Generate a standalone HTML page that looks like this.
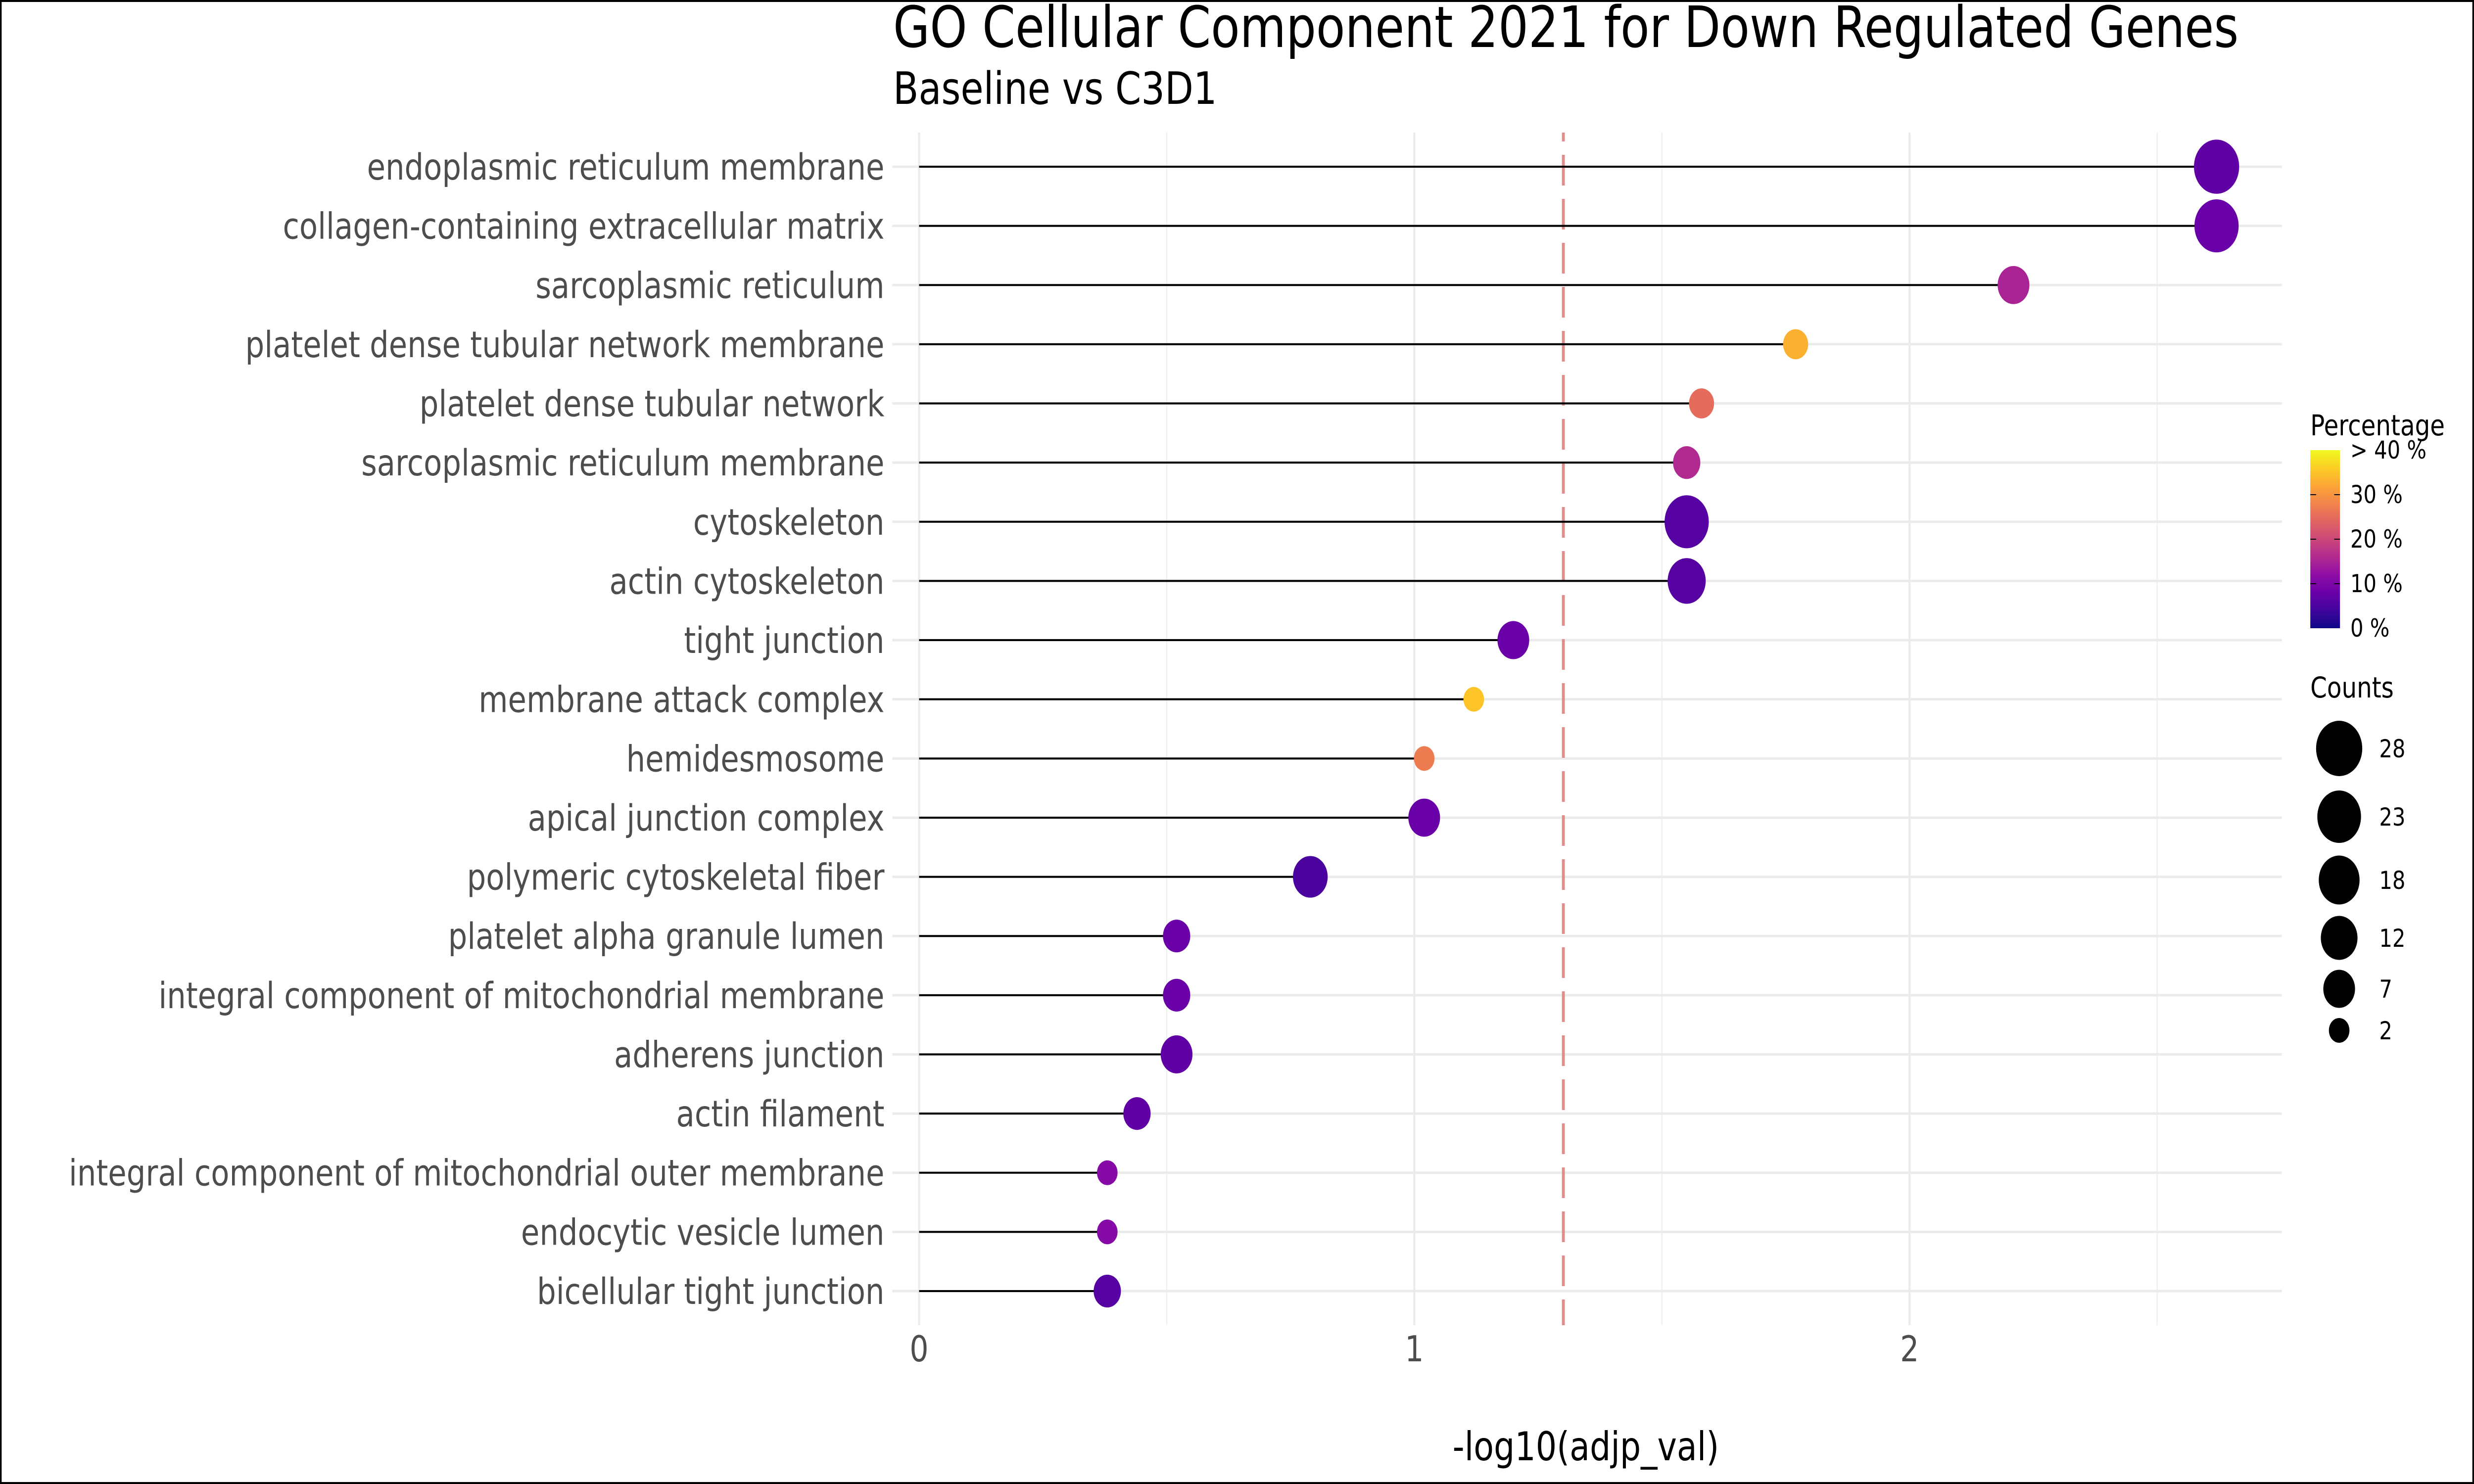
<!DOCTYPE html>
<html><head><meta charset="utf-8"><style>
html,body{margin:0;padding:0;background:#fff;width:100%;height:100%;overflow:hidden}
svg{display:block;width:100vw;height:100vh;font-family:"DejaVu Sans","Liberation Sans",sans-serif}
</style></head><body>
<svg id="chart" viewBox="0 0 6000 3000" preserveAspectRatio="none" xmlns="http://www.w3.org/2000/svg">
<rect x="2" y="2" width="5996" height="2996" fill="#fff" stroke="#000" stroke-width="4"/>
<text x="2166" y="95" font-size="115" fill="#000">GO Cellular Component 2021 for Down Regulated Genes</text>
<text x="2166" y="210" font-size="90" fill="#000">Baseline vs C3D1</text>
<g id="grid"></g>
<g id="marks"></g>
<g id="ylabels"></g>
<g id="xlabels"></g>
<text x="3846" y="2952" font-size="80" text-anchor="middle" fill="#000">-log10(adjp_val)</text>
<defs><linearGradient id="plasma" x1="0" y1="1" x2="0" y2="0"></linearGradient></defs>
<g id="legend">
<text x="5603" y="880" font-size="58" fill="#000">Percentage</text>
<rect x="5603" y="910" width="72" height="360" fill="url(#plasma)"/>
<text x="5603" y="1410" font-size="58" fill="#000">Counts</text>
</g>
</svg>
<script>
const categories = ["endoplasmic reticulum membrane","collagen-containing extracellular matrix","sarcoplasmic reticulum","platelet dense tubular network membrane","platelet dense tubular network","sarcoplasmic reticulum membrane","cytoskeleton","actin cytoskeleton","tight junction","membrane attack complex","hemidesmosome","apical junction complex","polymeric cytoskeletal fiber","platelet alpha granule lumen","integral component of mitochondrial membrane","adherens junction","actin filament","integral component of mitochondrial outer membrane","endocytic vesicle lumen","bicellular tight junction"];
const logPadj = [2.62,2.62,2.21,1.77,1.58,1.55,1.55,1.55,1.20,1.12,1.02,1.02,0.79,0.52,0.52,0.52,0.44,0.38,0.38,0.38];
const counts = [26,24,7,4,4,5,24,14,7,2,2,7,10,5,5,7,5,2,2,5];
const percents = [7,8,15,33,25,16,6,6,8,35,27,8,5,8,8,7,7,11,11,6];
const xTicks = [0,1,2];
const xMinor = [0.5,1.5,2.5];
const colorTicks = [0,10,20,30,40];
const colorTickLabels = ["0 %","10 %","20 %","30 %","> 40 %"];
const sizeBreaks = [28,23,18,12,7,2];
const sizeRadii = [56,53,49.5,44.5,38.5,25];
const threshold = 1.301;

const NS="http://www.w3.org/2000/svg";
const X0=2229, UNIT=1201, PL=2164, PR=5534, PT=268, PB=2679, ROW0=337, ROWSTEP=(2610-337)/19;
const xs=v=>X0+v*UNIT;
const ys=i=>ROW0+i*ROWSTEP;
const stops=["#0d0887","#41049d","#6a00a8","#8f0da4","#b12a90","#cc4778","#e16462","#f2844b","#fca636","#fcce25","#f0f921"];
function hex(h){return [1,3,5].map(i=>parseInt(h.substr(i,2),16));}
function plasma(t){t=Math.max(0,Math.min(1,t));const p=t*10,i=Math.min(9,Math.floor(p)),f=p-i;const a=hex(stops[i]),b=hex(stops[i+1]);return "rgb("+a.map((v,k)=>Math.round(v+(b[k]-v)*f)).join(",")+")";}
const col=p=>plasma(p/40);
function rad(c){
  for(let i=0;i<sizeBreaks.length-1;i++){const a=sizeBreaks[i],b=sizeBreaks[i+1];if(c<=a&&c>=b){return sizeRadii[i+1]+(sizeRadii[i]-sizeRadii[i+1])*(c-b)/(a-b);}}
  return c>sizeBreaks[0]?sizeRadii[0]:sizeRadii[sizeRadii.length-1];
}
function mk(tag,attrs,parent){const e=document.createElementNS(NS,tag);for(const k in attrs)e.setAttribute(k,attrs[k]);parent.appendChild(e);return e;}
const grid=document.getElementById('grid'),marks=document.getElementById('marks'),yl=document.getElementById('ylabels'),xl=document.getElementById('xlabels');
xMinor.forEach(v=>{const e=mk('line',{x1:xs(v),x2:xs(v),y1:PT,y2:PB,stroke:'#f0f0f0','stroke-width':3},grid);

});
xTicks.forEach(v=>{const e=mk('line',{x1:xs(v),x2:xs(v),y1:PT,y2:PB,stroke:'#ebebeb','stroke-width':5},grid);


const t=mk('text',{x:xs(v),y:2752,'font-size':72,'text-anchor':'middle',fill:'#4d4d4d'},xl);t.textContent=v;

});
categories.forEach((c,i)=>{const e=mk('line',{x1:PL,x2:PR,y1:ys(i),y2:ys(i),stroke:'#ebebeb','stroke-width':5},grid);

});
const th=mk('line',{x1:xs(threshold),x2:xs(threshold),y1:PT,y2:PB,stroke:'#e08c8c','stroke-width':7,'stroke-dasharray':'62 27','stroke-dashoffset':'44'},grid);


categories.forEach((c,i)=>{
  const y=ys(i);
  const l=mk('line',{x1:xs(0),x2:xs(logPadj[i]),y1:y,y2:y,stroke:'#000','stroke-width':4},marks);
  
  
  const d=mk('circle',{cx:xs(logPadj[i]),cy:y,r:rad(counts[i]),fill:col(percents[i])},marks);
  
  
  const t=mk('text',{x:2145,y:y+26,'font-size':73,'text-anchor':'end',fill:'#4d4d4d'},yl);t.textContent=c;
  
  
});
const g=document.getElementById('plasma');
stops.forEach((s,i)=>mk('stop',{offset:(i*10)+'%','stop-color':s},g));
const lg=document.getElementById('legend');
colorTicks.forEach((v,i)=>{const y=1270-v/40*360;
  if(i>0&&i<colorTicks.length-1){mk('line',{x1:5603,x2:5617,y1:y,y2:y,stroke:'#000','stroke-width':2},lg);mk('line',{x1:5661,x2:5675,y1:y,y2:y,stroke:'#000','stroke-width':2},lg);}
  const t=mk('text',{x:5700,y:y+17,'font-size':50,fill:'#000'},lg);t.textContent=colorTickLabels[i];
  
  });
const sy=[1513,1651,1779,1896,1999,2083];
sizeBreaks.forEach((b,i)=>{const c=mk('circle',{cx:5673,cy:sy[i],r:rad(b),fill:'#000'},lg);
  
  
  const t=mk('text',{x:5770,y:sy[i]+18,'font-size':50,fill:'#000'},lg);t.textContent=b;
  
  });
</script>
</body></html>
